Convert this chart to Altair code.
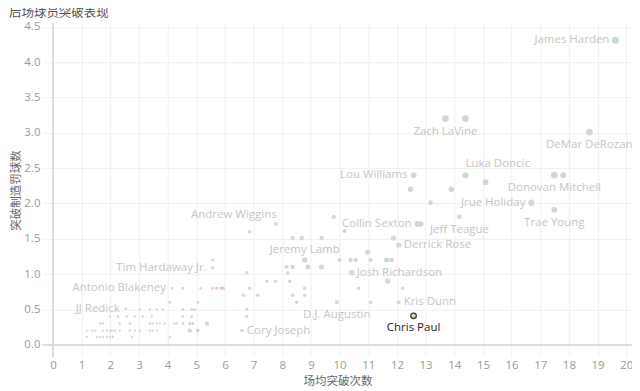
import altair as alt
import pandas as pd

# labelled players
names = ["James Harden", "DeMar DeRozan", "Zach LaVine", "Luka Doncic", "Lou Williams",
         "Donovan Mitchell", "Jrue Holiday", "Trae Young", "Jeff Teague", "Collin Sexton",
         "Derrick Rose", "Andrew Wiggins", "Jeremy Lamb", "Josh Richardson", "Kris Dunn",
         "Chris Paul", "D.J. Augustin", "Cory Joseph", "Tim Hardaway Jr.", "Antonio Blakeney",
         "JJ Redick"]
name_drives = [19.62, 18.71, 13.69, 14.39, 12.58, 17.49, 16.69, 17.49, 14.18, 12.72,
               12.06, 7.77, 8.78, 10.42, 12.06, 12.58, 9.90, 6.59, 5.57, 4.15, 2.54]
name_fta = [4.31, 3.01, 3.20, 2.40, 2.40, 2.40, 2.01, 1.91, 1.81, 1.71,
            1.41, 1.71, 1.20, 1.02, 0.60, 0.41, 0.60, 0.20, 1.09, 0.80, 0.51]
name_pts = [14, 13, 12, 10, 9, 12, 11, 9, 6, 9, 8, 4, 8, 8, 4, 9, 4, 3, 3, 2, 2]
name_tone = ["g", "g", "g", "g", "g", "g", "g", "g", "n", "g",
             "n", "n", "g", "n", "n", "n", "n", "n", "n", "n", "n"]
name_place = ["left", "below", "below", "upright", "left", "below", "left", "below", "below", "left",
              "right", "upleft", "above", "right", "right", "below", "below", "right", "left", "left",
              "left"]

# other players (unlabelled)
other_drives = [14.39, 15.09, 17.80, 12.47, 13.90, 13.17, 12.83, 11.88, 9.79, 10.17,
                8.36, 8.68, 9.37, 6.86, 10.00, 10.38, 10.56, 11.08, 11.64, 11.81,
                10.98, 8.15, 8.36, 8.89, 9.37, 8.19, 6.76, 7.46, 7.77, 8.26,
                11.67, 8.78, 10.66, 12.20, 6.86, 5.92, 8.36, 8.78, 6.65, 7.14,
                8.50, 11.08, 6.76, 6.76, 5.57,
                4.53, 5.15, 5.57, 5.71, 5.85, 5.95, 5.05, 4.08,
                3.03, 3.38, 3.62, 3.83, 4.53, 4.84, 4.95,
                1.99, 2.27, 2.58, 2.86, 3.14, 3.45, 4.53, 4.84,
                1.64, 1.74, 2.33, 2.68, 3.38, 3.48, 3.62, 3.73, 3.90, 4.25, 4.32, 4.53, 4.77, 4.88, 5.37,
                1.18, 1.36, 1.46, 1.74, 1.88, 1.99, 2.06, 2.16, 2.33, 2.68, 2.86, 3.03, 3.38, 3.48, 3.62, 4.77, 5.05,
                1.18, 1.53, 1.64, 1.74, 1.88, 1.99, 2.09, 2.75, 4.08, 4.08]
other_fta = [3.20, 2.30, 2.40, 2.20, 2.20, 2.01, 1.71, 1.51, 1.81, 1.61,
             1.51, 1.51, 1.51, 1.60, 1.20, 1.20, 1.20, 1.20, 1.20, 1.20,
             1.31, 1.10, 1.10, 1.10, 1.10, 1.02, 1.02, 0.90, 0.90, 0.90,
             0.90, 0.80, 0.80, 0.80, 0.80, 0.80, 0.70, 0.70, 0.70, 0.70,
             0.60, 0.60, 0.50, 0.40, 1.20,
             0.80, 0.80, 0.80, 0.80, 0.80, 0.80, 0.60, 0.60,
             0.50, 0.50, 0.50, 0.50, 0.50, 0.50, 0.50,
             0.40, 0.40, 0.40, 0.40, 0.40, 0.40, 0.40, 0.40,
             0.30, 0.30, 0.30, 0.30, 0.30, 0.30, 0.30, 0.30, 0.30, 0.30, 0.30, 0.30, 0.30, 0.30, 0.30,
             0.20, 0.20, 0.20, 0.20, 0.20, 0.20, 0.20, 0.20, 0.20, 0.20, 0.20, 0.20, 0.20, 0.20, 0.20, 0.20, 0.20,
             0.11, 0.11, 0.11, 0.11, 0.11, 0.11, 0.11, 0.11, 0.11, 0.00]
other_pts = [12, 9, 9, 8, 8, 6, 8, 7, 5, 4,
             5, 5, 5, 3, 4, 5, 5, 4, 7, 5,
             7, 4, 5, 6, 7, 3, 3, 3, 3, 3,
             7, 3, 3, 3, 3, 3, 3, 3, 3, 3,
             3, 3, 3, 3, 2,
             2, 2, 2, 2, 2, 2, 2, 2,
             1, 1, 1, 1, 2, 2, 2,
             1, 1, 1, 1, 1, 1, 2, 2,
             1, 1, 1, 1, 1, 1, 1, 1, 1, 1, 1, 2, 2, 2, 5,
             1, 1, 1, 1, 1, 1, 1, 1, 1, 1, 1, 1, 1, 1, 1, 5, 3,
             1, 1, 1, 1, 1, 1, 1, 1, 1, 1]
other_tone = ["g", "g", "g", "g", "g", "g", "g", "n", "n", "r",
              "n", "n", "n", "n", "n", "n", "n", "n", "g", "g",
              "n", "g", "g", "g", "n", "n", "n", "n", "n", "n",
              "n", "n", "n", "n", "n", "n", "n", "n", "n", "n",
              "n", "n", "n", "n", "n",
              "n", "n", "r", "r", "r", "r", "n", "n",
              "n", "n", "n", "n", "n", "n", "n",
              "n", "n", "n", "n", "n", "n", "n", "n",
              "n", "n", "n", "n", "n", "n", "n", "n", "n", "n", "n", "n", "r", "r", "n",
              "n", "n", "n", "n", "n", "n", "n", "n", "n", "n", "n", "n", "n", "n", "n", "n", "r",
              "n", "n", "n", "n", "n", "n", "n", "n", "n", "n"]

x_ticks = list(range(0, 21))
y_ticks = [0.0, 0.5, 1.0, 1.5, 2.0, 2.5, 3.0, 3.5, 4.0, 4.5]

df = pd.DataFrame({
    "name": names + [""] * len(other_drives),
    "drives": name_drives + other_drives,
    "fta": name_fta + other_fta,
    "pts": name_pts + other_pts,
    "tone": name_tone + other_tone,
    "place": name_place + [""] * len(other_drives),
})

xs = alt.Scale(domain=[-0.35, 20.2], nice=False, zero=False)
ys = alt.Scale(domain=[-0.17, 4.55], nice=False, zero=False)
x_axis = alt.Axis(values=x_ticks, format="d", title="场均突破次数")
y_axis = alt.Axis(values=y_ticks, format=".1f", title="突破制造罚球数")
X = alt.X("drives:Q", scale=xs, axis=x_axis)
Y = alt.Y("fta:Q", scale=ys, axis=y_axis)

base = alt.Chart(df)

zero_x = alt.Chart(df).mark_rule(color="#dcdcdc", strokeWidth=1).encode(
    x=alt.X(datum=0, scale=xs, axis=x_axis))
zero_y = alt.Chart(df).mark_rule(color="#dcdcdc", strokeWidth=1).encode(
    y=alt.Y(datum=0, scale=ys, axis=y_axis))

pts = base.transform_filter("datum.name != 'Chris Paul'").mark_circle(opacity=1).encode(
    x=X, y=Y,
    size=alt.Size("pts:Q", scale=alt.Scale(domain=[0, 15], range=[2, 55]), legend=None),
    color=alt.Color("tone:N", scale=alt.Scale(domain=["g", "n", "r"],
                                              range=["#cbdccd", "#d8d8d8", "#ecc8c8"]), legend=None),
)

cp = base.transform_filter("datum.name == 'Chris Paul'").mark_point(
    filled=False, stroke="#3a3a2a", fill="#d8dfc8", fillOpacity=1, strokeWidth=1.3, size=30
).encode(x=X, y=Y)

label_font = "Open Sans"
placements = {
    "left": dict(align="right", baseline="middle", dx=-6, dy=0),
    "right": dict(align="left", baseline="middle", dx=5, dy=0),
    "below": dict(align="center", baseline="middle", dx=0, dy=13),
    "above": dict(align="center", baseline="middle", dx=0, dy=-10),
    "upright": dict(align="left", baseline="middle", dx=0, dy=-11),
    "upleft": dict(align="right", baseline="middle", dx=1, dy=-9),
}
label_layers = []
for p, kw in placements.items():
    label_layers.append(
        base.transform_filter(f"datum.place == '{p}' && datum.name != 'Chris Paul'").mark_text(
            font=label_font, fontSize=11.5, color="#c6c6c6", **kw
        ).encode(x=X, y=Y, text="name:N")
    )
cp_label = base.transform_filter("datum.name == 'Chris Paul'").mark_text(
    font=label_font, fontSize=11.5, color="#222222", align="center", baseline="middle", dy=12
).encode(x=X, y=Y, text="name:N")

chart = alt.layer(zero_x, zero_y, pts, *label_layers, cp, cp_label).properties(
    width=590, height=334,
    autosize=alt.AutoSizeParams(type="none"),
    padding={"left": 35, "top": 15, "right": 0, "bottom": 34},
    title=alt.TitleParams("后场球员突破表现", anchor="start", frame="group", dx=-34, dy=3,
                          offset=4,
                          font="Noto Sans CJK SC", fontSize=12.5, fontWeight="normal",
                          color="#555555"),
).configure_view(stroke=None).configure_axis(
    grid=True, gridColor="#f0f0f0", domain=False, ticks=False,
    labelFont="Open Sans", labelFontSize=11.5, labelColor="#9a9a9a",
    titleFont="Noto Sans CJK SC", titleFontSize=11.5, titleFontWeight="normal", titleColor="#666666",
).configure_axisX(labelPadding=3, titlePadding=4).configure_axisY(labelPadding=3, titlePadding=2)

chart.save("out.html", embed_options={"renderer": "svg", "actions": False})
